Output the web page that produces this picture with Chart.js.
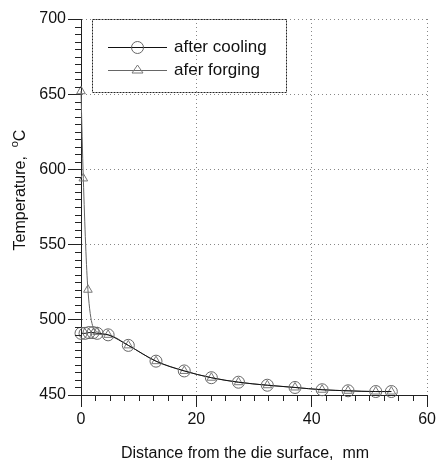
<!DOCTYPE html>
<html lang="en">

<head>
  <meta charset="UTF-8" />
  <title>Temperature vs distance</title>
  <script src="https://cdn.jsdelivr.net/npm/chart.js"></script>
  <style>
    html, body { margin: 0; padding: 0; background: #fff; }
    #wrap { width: 439px; height: 464px; }
  </style>
</head>

<body>
  <div id="wrap"><canvas id="tempChart"></canvas></div>

  <script>
    // values
    const coolX = [0, 0.7, 1.4, 2.1, 2.8, 4.7, 8.2, 13.0, 17.9, 22.6, 27.3, 32.3, 37.1, 41.8, 46.3, 51.1, 53.8];
    const coolY = [491, 491, 491.5, 491.5, 491, 490, 483, 472.5, 466, 461.5, 458.5, 456.5, 455, 453.5, 452.8, 452.3, 452.3];
    const forgeX = [0, 0.4, 1.2, 2.8, 4.7, 8.2, 13.0, 17.9, 22.6, 27.3, 32.3, 37.1, 41.8, 46.3, 51.1, 53.8];
    const forgeY = [652, 594, 520, 492, 490, 483, 472.5, 466, 461.5, 458.5, 456.5, 455, 453.5, 452.8, 452.3, 452.3];
    const seriesNames = ["after cooling", "afer forging"];
    const xTitle = "Distance from the die surface,  mm";
    const yTitle = "Temperature,  ";

    const font = "'Liberation Sans', Arial, sans-serif";

    function toPoints(xs, ys) {
      return xs.map((x, i) => ({ x: x, y: ys[i] }));
    }

    // minor ticks, legend box and axis titles
    const extras = {
      id: "extras",
      afterDraw(chart) {
        const ctx = chart.ctx;
        const xs = chart.scales.x;
        const ys = chart.scales.y;
        const area = chart.chartArea;

        ctx.save();
        ctx.strokeStyle = "#222";
        ctx.lineWidth = 1;
        ctx.beginPath();
        for (let v = 455; v < 700; v += 5) {
          if (v % 50 === 0) continue;
          const py = Math.round(ys.getPixelForValue(v)) + 0.5;
          ctx.moveTo(area.left - 6, py);
          ctx.lineTo(area.left, py);
        }
        for (let v = 2.5; v < 60; v += 2.5) {
          if (v % 20 === 0) continue;
          const px = Math.round(xs.getPixelForValue(v)) + 0.5;
          ctx.moveTo(px, area.bottom);
          ctx.lineTo(px, area.bottom + 6);
        }
        ctx.stroke();

        // legend
        ctx.setLineDash([2, 1]);
        ctx.strokeStyle = "#222";
        ctx.strokeRect(92.5, area.top + 0.5, 194, 73);
        ctx.setLineDash([]);
        const rows = [area.top + 28, area.top + 51];
        rows.forEach((ry, i) => {
          const ds = chart.data.datasets[i];
          ctx.strokeStyle = ds.borderColor;
          ctx.beginPath();
          ctx.moveTo(108, ry + 0.5);
          ctx.lineTo(167, ry + 0.5);
          ctx.stroke();
          ctx.strokeStyle = ds.pointBorderColor;
          ctx.beginPath();
          if (ds.pointStyle === "circle") {
            ctx.arc(137.5, ry + 0.5, ds.pointRadius, 0, Math.PI * 2);
          } else {
            const r = ds.pointRadius;
            ctx.moveTo(137.5, ry - r);
            ctx.lineTo(137.5 + r * 1.1, ry + r * 0.6);
            ctx.lineTo(137.5 - r * 1.1, ry + r * 0.6);
            ctx.closePath();
          }
          ctx.stroke();
          ctx.fillStyle = "#111";
          ctx.font = "17px " + font;
          ctx.textBaseline = "middle";
          ctx.textAlign = "left";
          ctx.fillText(seriesNames[i], 174, ry);
        });

        // x title
        ctx.fillStyle = "#111";
        ctx.font = "16px " + font;
        ctx.textAlign = "center";
        ctx.textBaseline = "middle";
        ctx.fillText(xTitle, 245, 454);

        // y title with superscript o
        ctx.translate(21, 190);
        ctx.rotate(-Math.PI / 2);
        ctx.font = "16px " + font;
        const w1 = ctx.measureText(yTitle).width;
        ctx.font = "11px " + font;
        const w2 = ctx.measureText("o").width;
        ctx.font = "16px " + font;
        const w3 = ctx.measureText("C").width;
        let sx = -(w1 + w2 + w3) / 2;
        ctx.textAlign = "left";
        ctx.fillText(yTitle, sx, 0);
        sx += w1;
        ctx.font = "11px " + font;
        ctx.fillText("o", sx, -6);
        sx += w2;
        ctx.font = "16px " + font;
        ctx.fillText("C", sx, 0);
        ctx.restore();
      }
    };

    new Chart(document.getElementById("tempChart"), {
      type: "line",
      data: {
        datasets: [
          {
            label: seriesNames[0],
            data: toPoints(coolX, coolY),
            borderColor: "#111",
            borderWidth: 1,
            pointStyle: "circle",
            pointRadius: 6,
            pointBorderColor: "#666",
            pointBackgroundColor: "rgba(0,0,0,0)",
            pointBorderWidth: 1,
            cubicInterpolationMode: "monotone",
            clip: false,
            fill: false
          },
          {
            label: seriesNames[1],
            data: toPoints(forgeX, forgeY),
            borderColor: "#666",
            borderWidth: 1,
            pointStyle: "triangle",
            pointRadius: 5,
            pointBorderColor: "#777",
            pointBackgroundColor: "rgba(0,0,0,0)",
            pointBorderWidth: 1,
            cubicInterpolationMode: "monotone",
            clip: false,
            fill: false
          }
        ]
      },
      options: {
        responsive: true,
        maintainAspectRatio: false,
        animation: false,
        layout: { padding: { top: 19, right: 9, left: 0, bottom: 0 } },
        plugins: {
          legend: { display: false },
          tooltip: { enabled: false }
        },
        scales: {
          x: {
            type: "linear",
            min: 0,
            max: 60,
            afterFit: s => { s.height = 69; },
            ticks: {
              stepSize: 20,
              color: "#111",
              padding: 3,
              font: { family: font, size: 16 }
            },
            grid: {
              color: "#888",
              tickColor: "#222",
              tickLength: 12,
              tickBorderDash: []
            },
            border: { color: "#222", dash: [1, 3] }
          },
          y: {
            min: 450,
            max: 700,
            afterFit: s => { s.width = 81; },
            ticks: {
              stepSize: 50,
              color: "#111",
              padding: 2,
              font: { family: font, size: 16 }
            },
            grid: {
              color: "#888",
              tickColor: "#222",
              tickLength: 13,
              tickBorderDash: []
            },
            border: { color: "#222", dash: [1, 3] }
          }
        }
      },
      plugins: [extras]
    });
  </script>
</body>

</html>
